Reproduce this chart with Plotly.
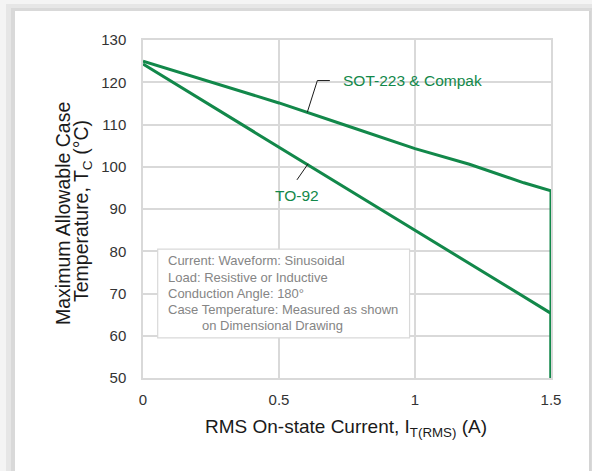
import plotly.graph_objects as go

# ---- data ----
current_sot = [0, 0.25, 0.5, 0.75, 1.0, 1.2, 1.4, 1.5, 1.5]
temp_sot = [125, 120.1, 115.1, 109.7, 104.3, 100.6, 96.2, 94.3, 50]
current_to92 = [0, 0.5, 1.0, 1.5, 1.5]
temp_to92 = [124.3, 104.6, 85.0, 65.3, 50]
x_ticks = [0, 0.5, 1, 1.5]
x_tick_labels = ["0", "0.5", "1", "1.5"]
y_ticks = [50, 60, 70, 80, 90, 100, 110, 120, 130]
y_title_lines = ["Maximum Allowable Case", "Temperature, T<sub>C</sub> (°C)"]
x_title = "RMS On-state Current, I<sub>T(RMS)</sub> (A)"
note_lines = [
    "Current: Waveform: Sinusoidal",
    "Load: Resistive or Inductive",
    "Conduction Angle: 180°",
    "Case Temperature: Measured as shown",
    "on Dimensional Drawing",
]

GREEN = "#12884a"
GRID = "#d9d9d9"
FONT = "Liberation Sans, Arial, sans-serif"

fig = go.Figure()
fig.add_trace(go.Scatter(x=current_sot, y=temp_sot, mode="lines",
                         line=dict(color=GREEN, width=3), showlegend=False,
                         hoverinfo="skip"))
fig.add_trace(go.Scatter(x=current_to92, y=temp_to92, mode="lines",
                         line=dict(color=GREEN, width=3), showlegend=False,
                         hoverinfo="skip"))

L, R, T, B = 143, 41, 40, 93
W, H = 592, 471
pw, ph = W - L - R, H - T - B


def px(x):
    return (x - L) / pw


def py(y):
    return (H - B - y) / ph


shapes = []
# frame (grey edges of the card) on a light grey page
for (x0, y0, x1, y1, c) in [
    (6, 4, W, H, "#e6e6e6"),
    (11, 8, W, H, "#d9d9d9"),
    (15, 11, 589, H, "#ffffff"),
    (589, 11, 591, H, "#d4d4d4"),
]:
    shapes.append(dict(type="rect", xref="paper", yref="paper",
                       x0=px(x0), x1=px(x1), y0=py(y1), y1=py(y0),
                       fillcolor=c, line=dict(width=0), layer="below"))

# note box
shapes.append(dict(type="rect", xref="x", yref="y", x0=0.054, x1=0.98,
                   y0=59.5, y1=80.5, fillcolor="white",
                   line=dict(color=GRID, width=1.2), layer="above"))
# leader lines
shapes.append(dict(type="path", xref="x", yref="y",
                   path="M 0.604 112.9 L 0.641 120.4 L 0.687 120.4",
                   line=dict(color="#1a1a1a", width=1)))
shapes.append(dict(type="line", xref="x", yref="y",
                   x0=0.607, y0=100.7, x1=0.566, y1=96.9,
                   line=dict(color="#1a1a1a", width=1)))

annotations = [
    dict(x=0.728, y=120.3, xref="x", yref="y", text="SOT-223 & Compak",
         showarrow=False, xanchor="left", yanchor="middle",
         font=dict(family=FONT, size=15.5, color=GREEN)),
    dict(x=0.566, y=93.1, xref="x", yref="y", text="TO-92",
         showarrow=False, xanchor="center", yanchor="middle",
         font=dict(family=FONT, size=15.5, color=GREEN)),
]
note_y = [77.7, 73.9, 70.1, 66.3, 62.4]
note_x = [0.0835, 0.0835, 0.0835, 0.0835, 0.208]
for t, xx, yy in zip(note_lines, note_x, note_y):
    annotations.append(dict(x=xx, y=yy, xref="x", yref="y", text=t,
                            showarrow=False, xanchor="left", yanchor="middle",
                            font=dict(family=FONT, size=13, color="#858585")))

# axis titles
for t, cx, cy in zip(y_title_lines, [63, 82], [214, 211]):
    annotations.append(dict(x=px(cx), y=py(cy), xref="paper", yref="paper",
                            text=t, textangle=-90, showarrow=False,
                            xanchor="center", yanchor="middle",
                            font=dict(family=FONT, size=19.5, color="#1a1a1a")))
annotations.append(dict(x=px(346), y=py(428), xref="paper", yref="paper",
                        text=x_title, showarrow=False,
                        xanchor="center", yanchor="middle",
                        font=dict(family=FONT, size=19, color="#1a1a1a")))

fig.update_layout(
    width=W, height=H,
    margin=dict(l=L, r=R, t=T, b=B),
    paper_bgcolor="#f4f4f4", plot_bgcolor="white",
    shapes=shapes, annotations=annotations,
    xaxis=dict(range=[0, 1.5], tickvals=x_ticks, ticktext=x_tick_labels,
               showgrid=True, gridcolor=GRID, gridwidth=1.5,
               showline=True, linecolor=GRID, linewidth=2, mirror=True,
               zeroline=False, ticks="", ticklabelstandoff=7,
               tickfont=dict(family=FONT, size=15, color="#333333")),
    yaxis=dict(range=[50, 130], tickvals=y_ticks,
               showgrid=True, gridcolor=GRID, gridwidth=1.5,
               showline=True, linecolor=GRID, linewidth=1.5, mirror=True,
               zeroline=False, ticks="", ticklabelstandoff=12,
               tickfont=dict(family=FONT, size=15, color="#333333")),
)

fig.write_html("out.html", config={"displayModeBar": False},
               post_script="document.body.style.margin='0';document.body.style.padding='0';")
